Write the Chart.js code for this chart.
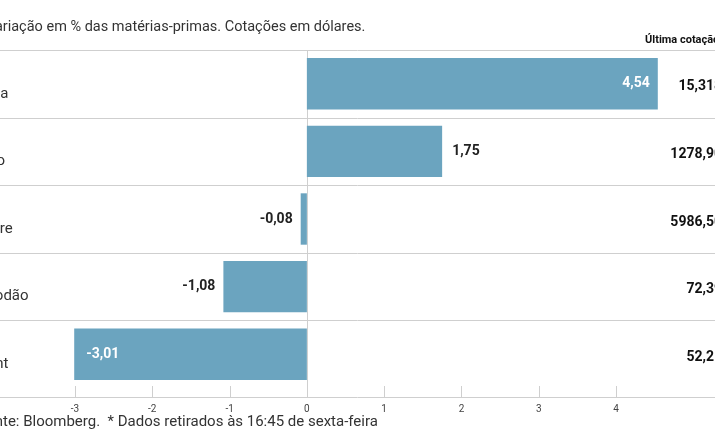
<!DOCTYPE html><html><head><meta charset="utf-8">
<script src="https://cdn.jsdelivr.net/npm/chart.js@4"></script>
<style>html,body{margin:0;padding:0;background:#fff;overflow:hidden}#w{width:715px;height:445px;position:relative}</style></head><body>
<div id="w"><canvas id="c"></canvas></div>
<script>
const categories=['Prata','Ouro','Cobre','Algodão','Brent'];
const changes=[4.54,1.75,-0.08,-1.08,-3.01];
const lastPrices=['15,318','1278,90','5986,50','72,39','52,21'];
const tickValues=[-3,-2,-1,0,1,2,3,4];
const F="'Roboto',sans-serif";
const fmt=v=>v.toFixed(2).replace('.',',');
const deco={id:'deco',
 beforeDatasetsDraw(ch){const {ctx,chartArea:a,scales:{x,y}}=ch;ctx.save();
  ctx.strokeStyle='#cfcfcf';ctx.lineWidth=1;
  const n=categories.length,h=(a.bottom-a.top)/n;
  for(let i=0;i<n;i++){const yy=Math.round(a.top+i*h)+0.5;ctx.beginPath();ctx.moveTo(0,yy);ctx.lineTo(715,yy);ctx.stroke();}
  const x0=Math.round(x.getPixelForValue(0))+0.5;ctx.beginPath();ctx.moveTo(x0,a.top);ctx.lineTo(x0,a.bottom);ctx.stroke();
  const ay=a.bottom+9.5;ctx.beginPath();ctx.moveTo(0,ay);ctx.lineTo(715,ay);ctx.stroke();
  tickValues.forEach(t=>{const px=Math.round(x.getPixelForValue(t))+0.5;ctx.beginPath();ctx.moveTo(px,a.bottom-2);ctx.lineTo(px,ay);ctx.stroke();});
  ctx.restore();},
 afterDatasetsDraw(ch){const {ctx,chartArea:a,scales:{x,y}}=ch;ctx.save();ctx.textBaseline='middle';
  const meta=ch.getDatasetMeta(0);
  ctx.fillStyle='#333';ctx.font="14.5px "+F;ctx.textAlign='left';
  ctx.fillText('Variação em % das matérias-primas. Cotações em dólares.',-14,27);
  ctx.font="15px "+F;ctx.fillText('Fonte: Bloomberg.  * Dados retirados às 16:45 de sexta-feira',-22,422);
  ctx.font="bold 11px "+F;ctx.fillStyle='#111';ctx.fillText('Última cotação',645,40);
  categories.forEach((c,i)=>{const yy=y.getPixelForValue(i);
   ctx.font="15px "+F;ctx.fillStyle='#333';ctx.textAlign='left';ctx.fillText(c,-27,yy+10);
   ctx.font="bold 14px "+F;ctx.fillStyle='#111';ctx.textAlign='right';ctx.fillText(lastPrices[i],722,yy+3);
   const v=changes[i],bx=meta.data[i].x,inside=Math.abs(v)>2.5;
   ctx.font="bold 14px "+F;
   if(v>=0){if(inside){ctx.fillStyle='#fff';ctx.textAlign='right';ctx.fillText(fmt(v),bx-8,yy);}else{ctx.fillStyle='#222';ctx.textAlign='left';ctx.fillText(fmt(v),bx+10,yy);}}
   else{if(inside){ctx.fillStyle='#fff';ctx.textAlign='left';ctx.fillText(fmt(v),bx+12,yy);}else{ctx.fillStyle='#222';ctx.textAlign='right';ctx.fillText(fmt(v),bx-8,yy);}}
  });ctx.restore();}};
new Chart(document.getElementById('c'),{type:'bar',
 data:{labels:categories,datasets:[{data:changes,backgroundColor:'#6ba4bf',borderWidth:0,barPercentage:0.76,categoryPercentage:1}]},
 options:{indexAxis:'y',responsive:true,maintainAspectRatio:false,animation:false,
  layout:{padding:{left:0,right:0,top:50,bottom:0}},
  plugins:{legend:{display:false},tooltip:{enabled:false}},
  scales:{x:{min:-3.97,max:5.28,grid:{display:false},border:{display:false},
    afterBuildTicks(s){s.ticks=tickValues.map(v=>({value:v}));},
    ticks:{padding:7,color:'#444',font:{size:10,family:F},callback:v=>String(v)},afterFit(s){s.height=57;}},
   y:{display:false}}},
 plugins:[deco]});
</script></body></html>
